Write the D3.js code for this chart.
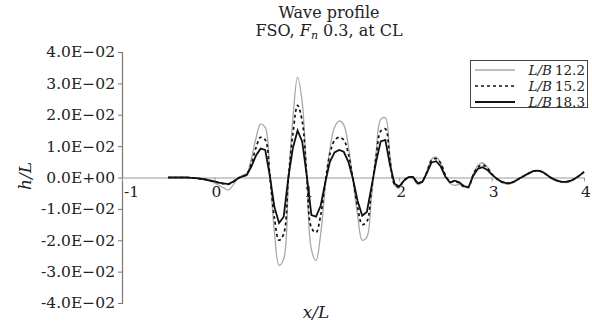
<!DOCTYPE html>
<html>
<head>
<meta charset="utf-8">
<script src="https://cdn.jsdelivr.net/npm/d3@7"></script>
<style>
  body { margin: 0; background: #fff; }
  svg text { font-family: "DejaVu Serif", serif; fill: #222; }
</style>
</head>
<body>
<div id="chart"></div>
<script>
// x/L positions shared by the three series
const xs = [-0.5, -0.45, -0.4, -0.35, -0.3, -0.25, -0.2, -0.15, -0.1, -0.05,
  0, 0.05, 0.1, 0.15, 0.2, 0.25, 0.3, 0.35, 0.4, 0.45,
  0.5, 0.55, 0.6, 0.65, 0.7, 0.75, 0.8, 0.85, 0.9, 0.95,
  1, 1.05, 1.1, 1.15, 1.2, 1.25, 1.3, 1.35, 1.4, 1.45,
  1.5, 1.55, 1.6, 1.65, 1.7, 1.75, 1.8, 1.85, 1.9, 1.95,
  2, 2.05, 2.1, 2.15, 2.2, 2.25, 2.3, 2.35, 2.4, 2.45,
  2.5, 2.55, 2.6, 2.65, 2.7, 2.75, 2.8, 2.85, 2.9, 2.95,
  3, 3.05, 3.1, 3.15, 3.2, 3.25, 3.3, 3.35, 3.4, 3.45,
  3.5, 3.55, 3.6, 3.65, 3.7, 3.75, 3.8, 3.85, 3.9, 3.95, 4];

// L/B 12.2 (grey)
const lb122 = [0, 0, 0, 0, 0, -0.0001, -0.0002, -0.0004, -0.0008, -0.0012,
  -0.0017, -0.0025, -0.0033, -0.004, -0.0025, -0.0005, 0.0006, 0.0012, 0.006, 0.0125,
  0.017, 0.016, 0.001, -0.0175, -0.028, -0.026, -0.002, 0.019, 0.032, 0.024,
  0.0, -0.023, -0.0265, -0.018, -0.003, 0.009, 0.016, 0.018, 0.0168, 0.01,
  -0.001, -0.012, -0.02, -0.019, -0.006, 0.008, 0.0185, 0.019, 0.007, -0.0025,
  -0.0032, -0.0012, 0.0, -0.0003, -0.0022, -0.0015, 0.002, 0.0058, 0.0065, 0.0045,
  0.0005, -0.0018, -0.0025, -0.0022, -0.0025, -0.0028, 0.001, 0.0038, 0.0047, 0.0035,
  0.0012, -0.0005, -0.0015, -0.002, -0.002, -0.0014, -0.0004, 0.0005, 0.0013, 0.002,
  0.0022, 0.0017, 0.0007, -0.0004, -0.0011, -0.0015, -0.0016, -0.0013, -0.0005, 0.0005, 0.0017];

// L/B 15.2 (dashed)
const lb152 = [0, 0, 0, 0, 0, -0.0001, -0.0002, -0.0004, -0.0006, -0.001,
  -0.0013, -0.0018, -0.002, -0.0022, -0.0014, -0.0003, 0.0004, 0.001, 0.0045, 0.0095,
  0.0128, 0.012, 0.0005, -0.013, -0.02, -0.018, -0.0005, 0.014, 0.023, 0.018,
  0.0005, -0.016, -0.0175, -0.012, -0.0015, 0.0075, 0.0118, 0.0128, 0.012, 0.0075,
  -0.0005, -0.0095, -0.015, -0.014, -0.004, 0.0065, 0.0148, 0.0155, 0.0055, -0.0022,
  -0.003, -0.001, 0.0001, 0.0, -0.0018, -0.0012, 0.0018, 0.0055, 0.006, 0.0045,
  0.0008, -0.0014, -0.0012, -0.0018, -0.003, -0.003, 0.0008, 0.0032, 0.004, 0.0032,
  0.0012, -0.0003, -0.0013, -0.0018, -0.0018, -0.0012, -0.0003, 0.0005, 0.0013, 0.002,
  0.0022, 0.0018, 0.0008, -0.0002, -0.0009, -0.0013, -0.0014, -0.0011, -0.0004, 0.0006, 0.0018];

// L/B 18.3 (solid black)
const lb183 = [0, 0, 0, 0, 0, -0.0001, -0.0002, -0.0004, -0.0006, -0.0009,
  -0.0012, -0.0016, -0.0019, -0.0021, -0.0014, -0.0004, 0.0003, 0.0008, 0.0035, 0.007,
  0.0092, 0.0088, 0.0005, -0.0095, -0.0145, -0.0125, 0.0, 0.0095, 0.015, 0.0115,
  0.0005, -0.012, -0.0125, -0.009, -0.0015, 0.005, 0.008, 0.0088, 0.0082, 0.005,
  -0.0005, -0.0075, -0.0122, -0.011, -0.003, 0.005, 0.0115, 0.012, 0.004, -0.002,
  -0.0029, -0.001, 0.0001, 0.0002, -0.0018, -0.0014, 0.0015, 0.0048, 0.0052, 0.0035,
  0.0002, -0.0016, -0.001, -0.0015, -0.0028, -0.0032, 0.0005, 0.0027, 0.0033, 0.0025,
  0.001, -0.0002, -0.0012, -0.0017, -0.0018, -0.0012, -0.0003, 0.0005, 0.0013, 0.002,
  0.0022, 0.0018, 0.0008, -0.0002, -0.0009, -0.0013, -0.0014, -0.0011, -0.0004, 0.0006, 0.0018];

const seriesNames = ["12.2", "15.2", "18.3"];
const yTicks = [0.04, 0.03, 0.02, 0.01, 0, -0.01, -0.02, -0.03, -0.04];
const yTickLabels = ["4.0E\u221202", "3.0E\u221202", "2.0E\u221202", "1.0E\u221202", "0.0E+00",
  "-1.0E\u221202", "-2.0E\u221202", "-3.0E\u221202", "-4.0E\u221202"];
const xTicks = [-1, 0, 1, 2, 3, 4];

const width = 592;
const height = 322;
const margin = { top: 52, right: 8, bottom: 19, left: 122 };

const svg = d3
  .select("#chart")
  .append("svg")
  .attr("width", width)
  .attr("height", height);

const x = d3
  .scaleLinear()
  .domain([-1, 4])
  .range([margin.left, width - margin.right]);

const y = d3
  .scaleLinear()
  .domain([-0.04, 0.04])
  .range([height - margin.bottom, margin.top]);

// y axis
const yAxis = svg
  .append("g")
  .attr("transform", "translate(" + margin.left + ",0)")
  .call(
    d3.axisLeft(y)
      .tickValues(yTicks)
      .tickSize(4)
      .tickPadding(3)
      .tickFormat((d, i) => yTickLabels[i])
  );
yAxis.select(".domain").attr("stroke", "#777").attr("stroke-width", 1.2);
yAxis.selectAll(".tick line").attr("stroke", "#777");
yAxis.selectAll(".tick text")
  .attr("font-family", "DejaVu Serif")
  .attr("font-size", 15.5)
  .attr("fill", "#222");

// x axis sits on h/L = 0
const xAxis = svg
  .append("g")
  .attr("transform", "translate(0," + y(0) + ")")
  .call(
    d3.axisBottom(x)
      .tickValues(xTicks)
      .tickSize(4)
      .tickPadding(4)
      .tickSizeOuter(0)
      .tickFormat(d3.format("d"))
  );
xAxis.select(".domain").attr("stroke", "#999").attr("stroke-width", 1.2);
xAxis.selectAll(".tick line").attr("stroke", "#999");
xAxis.selectAll(".tick text")
  .attr("font-family", "DejaVu Serif")
  .attr("font-size", 15.5)
  .attr("fill", "#222")
  .attr("dx", (d) => (d === -1 ? 9 : 1.5))
  .text((d) => (d < 0 ? "-" + Math.abs(d) : d));

const line = d3
  .line()
  .x((d, i) => x(xs[i]))
  .y((d) => y(d))
  .curve(d3.curveCatmullRom.alpha(0.5));

svg
  .append("path")
  .datum(lb122)
  .attr("fill", "none")
  .attr("stroke", "#a8a8a8")
  .attr("stroke-width", 1.3)
  .attr("d", line);

svg
  .append("path")
  .datum(lb152)
  .attr("fill", "none")
  .attr("stroke", "#111")
  .attr("stroke-width", 1.7)
  .attr("stroke-dasharray", "3,3")
  .attr("d", line);

svg
  .append("path")
  .datum(lb183)
  .attr("fill", "none")
  .attr("stroke", "#111")
  .attr("stroke-width", 1.8)
  .attr("d", d3.line().x((d, i) => x(xs[i])).y((d) => y(d)));

// title
const title = svg
  .append("text")
  .attr("text-anchor", "middle")
  .attr("font-size", 16)
  .attr("x", 329);
title.append("tspan").attr("x", 329).attr("y", 18).text("Wave profile");
const t2 = title.append("tspan").attr("x", 329).attr("y", 36);
t2.append("tspan").text("FSO, ");
t2.append("tspan").attr("font-style", "italic").text("F");
t2.append("tspan").attr("font-style", "italic").attr("font-size", 11).attr("dy", 3).text("n");
t2.append("tspan").attr("dy", -3).text(" 0.3, at CL");

// axis titles
svg
  .append("text")
  .attr("transform", "translate(31,176) rotate(-90)")
  .attr("text-anchor", "middle")
  .attr("font-size", 17)
  .attr("font-style", "italic")
  .text("h/L");

svg
  .append("text")
  .attr("x", 316)
  .attr("y", 318)
  .attr("text-anchor", "middle")
  .attr("font-size", 17)
  .attr("font-style", "italic")
  .text("x/L");

// legend
const legend = svg.append("g");
legend
  .append("rect")
  .attr("x", 470.5)
  .attr("y", 60.5)
  .attr("width", 117)
  .attr("height", 47)
  .attr("fill", "#fff")
  .attr("stroke", "#444")
  .attr("stroke-width", 1);

const legendStyles = [
  { stroke: "#a8a8a8", w: 1.3, dash: null },
  { stroke: "#111", w: 1.7, dash: "3,3" },
  { stroke: "#111", w: 1.8, dash: null }
];

seriesNames.forEach((name, i) => {
  const ly = 70 + i * 16;
  legend
    .append("line")
    .attr("x1", 475)
    .attr("x2", 515)
    .attr("y1", ly)
    .attr("y2", ly)
    .attr("stroke", legendStyles[i].stroke)
    .attr("stroke-width", legendStyles[i].w)
    .attr("stroke-dasharray", legendStyles[i].dash);
  const t = legend
    .append("text")
    .attr("x", 585)
    .attr("y", ly + 5)
    .attr("text-anchor", "end")
    .attr("font-size", 13.5);
  t.append("tspan").attr("font-style", "italic").text("L/B");
  t.append("tspan").attr("dx", 3).text(name);
});
</script>
</body>
</html>
